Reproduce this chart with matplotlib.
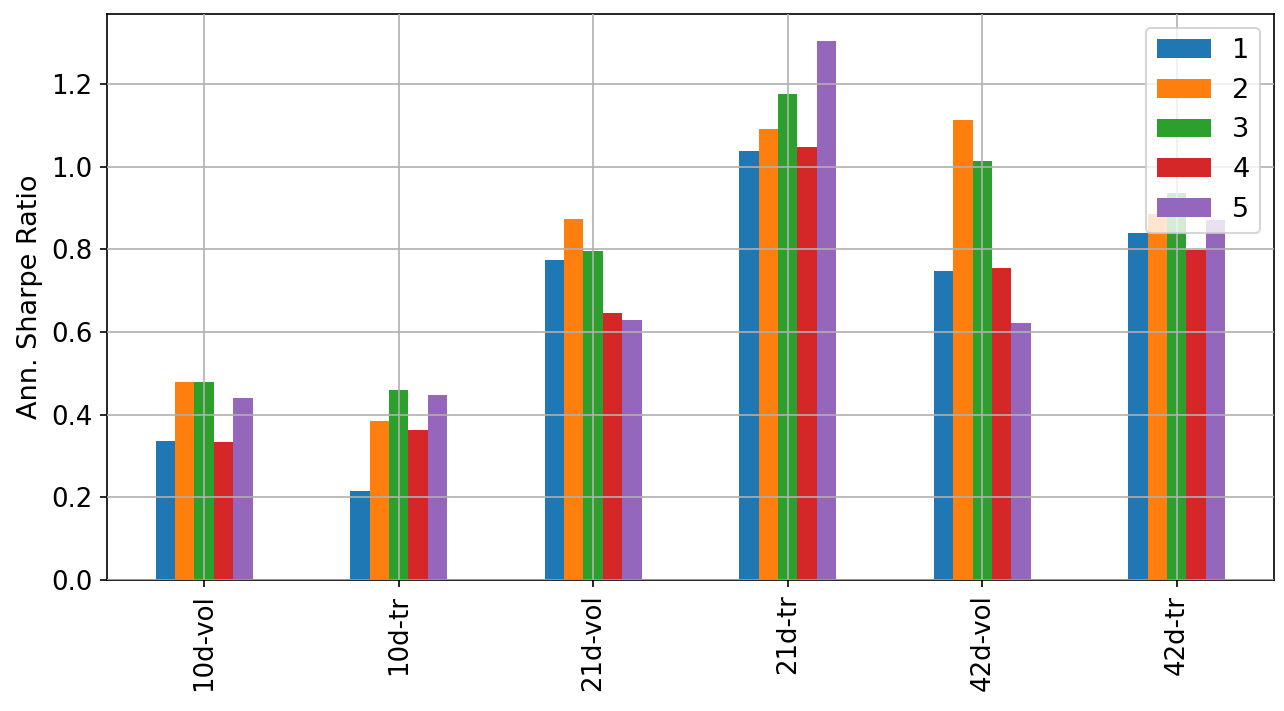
import numpy as np
import pandas as pd
import matplotlib
matplotlib.use("Agg")
import matplotlib.pyplot as plt

plt.rcParams['font.size'] = 13
plt.rcParams['xtick.labelsize'] = 12.5
plt.rcParams['ytick.labelsize'] = 12.5

# categorias (eje x) y valores por quintil
categorias = ['10d-vol', '10d-tr', '21d-vol', '21d-tr', '42d-vol', '42d-tr']
q1 = [0.336, 0.215, 0.774, 1.037, 0.747, 0.839]
q2 = [0.479, 0.385, 0.873, 1.091, 1.112, 0.885]
q3 = [0.479, 0.459, 0.796, 1.175, 1.013, 0.936]
q4 = [0.334, 0.363, 0.646, 1.047, 0.755, 0.798]
q5 = [0.440, 0.447, 0.629, 1.304, 0.622, 0.871]

df = pd.DataFrame({'1': q1, '2': q2, '3': q3, '4': q4, '5': q5}, index=categorias)

fig, ax = plt.subplots(figsize=(8.56, 4.74), dpi=150)
df.plot.bar(ax=ax, rot=90)
ax.set_ylabel('Ann. Sharpe Ratio')
ax.grid(True)
ax.set_axisbelow(False)
ax.legend(loc='upper right', fontsize=13)

fig.subplots_adjust(left=0.0833, right=0.9922, top=0.9803, bottom=0.1842)
fig.savefig('out.png', dpi=150)
